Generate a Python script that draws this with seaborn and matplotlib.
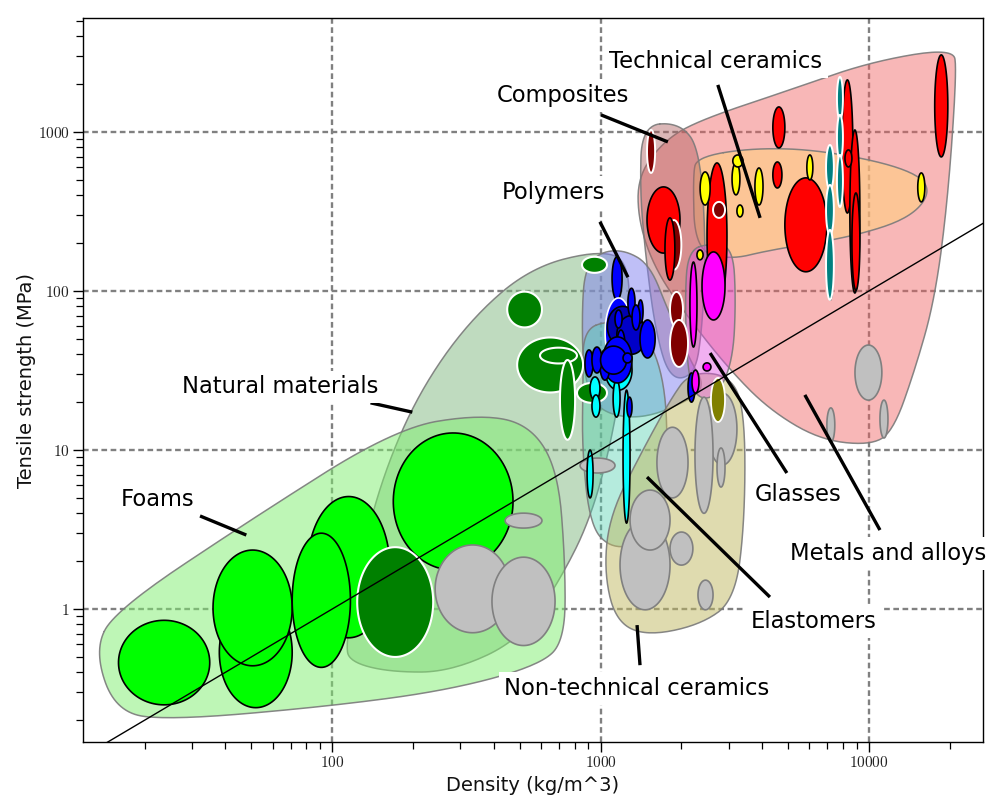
import numpy as np
import matplotlib
matplotlib.use("Agg")
import matplotlib.pyplot as plt
import seaborn as sns
from matplotlib.ticker import FuncFormatter, NullFormatter, LogLocator, FixedLocator

# ---------------- data (density kg/m^3, tensile strength MPa) ----------------
# family envelopes (boundary vertices)
metals_env_density = [1380, 1738, 2350, 5080, 10090, 20560, 21250, 19670, 17580, 14830, 12280, 10090, 6560, 4276, 3034, 2153, 1597, 1380]
metals_env_strength = [536, 891, 1189, 1837, 2754, 3375, 2455, 373, 87.8, 31.8, 13.0, 10.7, 11.6, 17.8, 31.8, 65.7, 136, 279]
techcer_env_density = [2287, 3700, 6560, 13370, 17300, 14590, 8710, 4276, 3034, 2248, 2208]
techcer_env_strength = [696, 793, 770, 602, 451, 292, 219, 181, 157, 181, 536]
comp_env_density = [1426, 1977, 2350, 2473, 2388, 2248, 1815, 1597, 1464, 1403]
comp_env_strength = [1107, 1140, 770, 181, 56.8, 29.6, 27.5, 56.8, 181, 432]
natural_env_density = [112, 127, 157, 213, 326, 546, 995, 1288, 1265, 1104, 914, 706, 501, 275, 164, 117]
natural_env_strength = [0.594, 2.03, 7.48, 23.8, 65.7, 140, 181, 152, 49.2, 11.6, 3.63, 1.52, 0.638, 0.402, 0.402, 0.464]
foam_env_density = [13.0, 15.6, 49.5, 172, 356, 546, 694, 738, 738, 595, 275, 98.4, 24.9, 15.6]
foam_env_strength = [0.552, 0.986, 3.63, 13.7, 16.8, 14.4, 7.48, 2.03, 0.638, 0.444, 0.31, 0.245, 0.2, 0.225]
poly_env_density = [875, 995, 1233, 1528, 1782, 2153, 2449, 2153, 1403, 953, 861, 853]
poly_env_strength = [136, 176, 181, 146, 75.9, 36.8, 25.6, 20.6, 15.4, 17.8, 31.8, 75.9]
elast_env_density = [861, 1084, 1464, 1738, 1782, 1738, 1403, 1084, 914, 853, 861]
elast_env_strength = [56.8, 65.7, 56.8, 27.5, 8.65, 4.2, 2.53, 2.42, 3.38, 10, 27.5]
ntc_env_density = [2153, 3034, 3450, 3450, 3170, 2350, 1464, 1132, 1030, 1084, 1403, 1815]
ntc_env_strength = [30.9, 29.6, 17.8, 3.63, 1.14, 0.793, 0.676, 0.853, 1.76, 3.9, 9.3, 20.6]
glass_env_density = [2118, 2600, 3114, 3193, 3114, 2735, 2350, 2118, 2061]
glass_env_strength = [181, 200, 186, 87.8, 36.8, 22.2, 20.6, 27.5, 87.8]

# individual materials: (min, max) ranges
foam_density = [(16, 35), (38, 71), (36, 71), (81, 164), (71, 117), (169, 472)]
foam_strength = [(0.25, 0.85), (0.24, 1.19), (0.44, 2.35), (0.66, 5.1), (0.43, 3.0), (1.76, 12.8)]

natural_density = [(124, 238), (449, 605), (489, 861), (595, 817), (706, 804), (853, 1057), (817, 1057)]
natural_strength = [(0.5, 2.45), (59, 99), (23, 51), (35, 44), (11.6, 36.8), (130, 164), (19.8, 26.4)]

gray_density = [(242, 460), (394, 677), (441, 605), (1622, 2118), (1182, 1815), (1288, 1815), (1815, 2208),
                (2307, 2625), (2512, 3222), (2248, 2625), (2716, 2909), (839, 1132), (8870, 11170),
                (10990, 11770), (6970, 7460)]
gray_strength = [(0.71, 2.53), (0.59, 2.12), (3.23, 4.01), (5.0, 13.9), (0.99, 3.63), (2.35, 5.6), (1.89, 3.05),
                 (0.99, 1.52), (8.05, 22.8), (4.0, 21.5), (5.85, 10.3), (7.17, 8.9), (20.6, 45.7),
                 (11.9, 20.6), (11.2, 18.4)]

olive_density = [(2578, 2909)]
olive_strength = [(15.0, 28.4)]

elast_density = [(1040, 1310), (914, 995), (929, 995), (1114, 1182), (1213, 1288), (891, 938)]
elast_strength = [(23.8, 42.6), (20.6, 28.8), (16.1, 22.2), (16.1, 27.5), (3.47, 23.8), (5.0, 10.0)]

poly_density = [(1104, 1203), (1040, 1310), (1060, 1380), (1150, 1480), (1265, 1344), (1380, 1440),
                (1310, 1403), (1132, 1203), (1151, 1233), (1403, 1597), (1021, 1310), (995, 1084),
                (875, 938), (929, 1012), (1000, 1250), (1213, 1310), (1254, 1310), (2118, 2248)]
poly_strength = [(87.8, 164), (33.3, 90.3), (45, 80), (40, 70), (68.6, 104), (62.9, 87.8),
                 (56.8, 81.6), (58.5, 75.9), (36.8, 56.8), (37.9, 65.7), (26.4, 51.4), (27.5, 42.6),
                 (28.8, 42.6), (30.5, 44.4), (30, 45), (35.3, 40.7), (16.1, 21.5), (20.0, 30.5)]

glass_density = [(2388, 2909), (2153, 2287), (2410, 2578), (2191, 2327)]
glass_strength = [(65.7, 176), (44.4, 152), (31.4, 35.3), (22.8, 31.8)]

metal_density = [(1490, 1977), (1738, 1892), (2493, 2958), (4385, 4861), (4385, 4740), (4861, 6970),
                 (7030, 7340), (7930, 8710), (8490, 9250), (8640, 9250), (8140, 8640), (17580, 19670)]
metal_strength = [(173, 451), (117, 288), (75.9, 638), (793, 1435), (444, 647), (132, 514),
                  (87.8, 209), (309, 2122), (97.1, 1028), (101, 413), (602, 770), (696, 3048)]

comp_density = [(1490, 1597), (1815, 2028), (1815, 2118), (1760, 2000), (2625, 2909)]
comp_strength = [(552, 1028), (59.3, 98.6), (33.3, 65.7), (136, 279), (288, 363)]

teal_density = [(7600, 8000), (7600, 8000), (7600, 8000), (6920, 7400), (6920, 7400), (6920, 7400)]
teal_strength = [(1189, 2218), (666, 1279), (337, 716), (432, 828), (225, 464), (87.8, 242)]

yellow_density = [(2350, 2560), (3090, 3305), (3110, 3394), (3760, 4030), (3222, 3394), (5870, 6180),
                  (15200, 16150), (2287, 2410)]
yellow_strength = [(347, 560), (402, 638), (602, 716), (347, 593), (292, 347), (499, 716),
                   (363, 552), (157, 181)]

# strength / density guide line
guide_density = [10, 30000]
guide_strength = [0.1, 300]

family_labels = ["Technical ceramics", "Composites", "Polymers", "Natural materials", "Foams",
                 "Glasses", "Metals and alloys", "Elastomers", "Non-technical ceramics"]

# ---------------- style ----------------
sns.set_theme(style="white")
plt.rcParams["font.family"] = ["DejaVu Sans"]
plt.rcParams["mathtext.fontset"] = "cm"

fig = plt.figure(figsize=(9.98, 8.0), dpi=100)
ax = fig.add_axes([83 / 998, 58 / 800, 900 / 998, 724 / 800])
ax.set_xscale("log")
ax.set_yscale("log")
ax.set_xlim(11.8, 26600)
ax.set_ylim(0.146, 5200)


def chaikin(pts, n=4):
    p = np.asarray(pts, dtype=float)
    for _ in range(n):
        q = np.roll(p, -1, axis=0)
        new = np.empty((2 * len(p), 2))
        new[0::2] = 0.75 * p + 0.25 * q
        new[1::2] = 0.25 * p + 0.75 * q
        p = new
    return p


def envelope(dens, stren, face, alpha, z):
    pts = np.column_stack([np.log10(dens), np.log10(stren)])
    sm = chaikin(pts, 4)
    ax.fill(10 ** sm[:, 0], 10 ** sm[:, 1], facecolor=face, alpha=alpha, edgecolor="none", zorder=z)
    xs = np.append(sm[:, 0], sm[0, 0])
    ys = np.append(sm[:, 1], sm[0, 1])
    ax.plot(10 ** xs, 10 ** ys, color="#7a7a7a", lw=1.1, alpha=0.9, zorder=z)


t = np.linspace(0, 2 * np.pi, 120)


def ellipses(dens, stren, face, edges, lw, z):
    for i, ((d0, d1), (s0, s1)) in enumerate(zip(dens, stren)):
        cx = (np.log10(d0) + np.log10(d1)) / 2
        ax_ = (np.log10(d1) - np.log10(d0)) / 2
        cy = (np.log10(s0) + np.log10(s1)) / 2
        ay = (np.log10(s1) - np.log10(s0)) / 2
        ec = edges[i] if isinstance(edges, list) else edges
        fc = face[i] if isinstance(face, list) else face
        ax.fill(10 ** (cx + ax_ * np.cos(t)), 10 ** (cy + ay * np.sin(t)),
                facecolor=fc, edgecolor=ec, lw=lw, zorder=z)


# envelopes (back to front)
envelope(metals_env_density, metals_env_strength, "#f06060", 0.45, 2)
envelope(techcer_env_density, techcer_env_strength, "#ffd080", 0.6, 2.1)
envelope(comp_env_density, comp_env_strength, "#b06060", 0.45, 2.2)
envelope(natural_env_density, natural_env_strength, "#80b880", 0.5, 2.3)
envelope(foam_env_density, foam_env_strength, "#7fef6f", 0.5, 2.4)
envelope(poly_env_density, poly_env_strength, "#8080f0", 0.5, 2.5)
envelope(elast_env_density, elast_env_strength, "#50d0b0", 0.42, 2.6)
envelope(ntc_env_density, ntc_env_strength, "#c0b860", 0.5, 2.7)
envelope(glass_env_density, glass_env_strength, "#e050e0", 0.45, 2.8)

# materials
ellipses(foam_density, foam_strength, "#00ff00", "black", 1.2, 3)
ellipses(natural_density, natural_strength, "#008000", "white", 1.5, 3.1)
ellipses(gray_density, gray_strength, "#c0c0c0", "#808080", 1.2, 3.2)
ellipses(olive_density, olive_strength, "#808000", "white", 1.3, 3.3)
ellipses(elast_density, elast_strength, "#00ffff", "black", 1.2, 3.4)
poly_edges = ["black"] * len(poly_density)
poly_edges[1] = "white"
poly_faces = ["#0000ff"] * len(poly_density)
poly_faces[2] = "#0000b0"
poly_faces[3] = "#0000c8"
ellipses(poly_density, poly_strength, poly_faces, poly_edges, 1.2, 3.5)
ellipses(metal_density[:1], metal_strength[:1], "#ff0000", "black", 1.2, 3.6)
ellipses(comp_density[:4], comp_strength[:4], "#800000", "white", 1.4, 3.7)
ellipses(metal_density[1:], metal_strength[1:], "#ff0000", "black", 1.2, 3.8)
ellipses(comp_density[4:], comp_strength[4:], "#800000", "white", 1.4, 3.9)
ellipses(glass_density, glass_strength, "#ff00ff", "black", 1.2, 4.0)
ellipses(teal_density, teal_strength, "#008080", "white", 1.4, 4.1)
ellipses(yellow_density, yellow_strength, "#ffff00", "black", 1.2, 4.2)

# guide line
sns.lineplot(x=guide_density, y=guide_strength, color="black", lw=1.0, ax=ax, zorder=5)

# labels with pointers
label_pos = [(2692, 2754, "center"), (724, 1684, "center"), (665, 413, "center"), (64, 24.9, "center"),
             (22.3, 4.92, "center"), (5430, 5.29, "center"), (5080, 2.25, "left"), (6240, 0.841, "center"),
             (1368, 0.318, "center")]
pointers = [((2735, 1974), (3930, 288)), ((1004, 1279), (1782, 865)), ((995, 272), (1265, 122)),
            ((139, 19.8), (199, 17.3)), ((32.2, 3.85), (47.9, 2.92)), ((4945, 7.17), (2560, 40.7)),
            ((10990, 3.14), (5770, 22.2)), ((4276, 1.19), (1490, 6.76)), ((1368, 0.793), (1403, 0.444))]
for (x0, y0), (x1, y1) in pointers:
    ax.plot([x0, x1], [y0, y1], color="black", lw=2.4, zorder=8, solid_capstyle="butt")
for txt, (lx, ly, ha) in zip(family_labels, label_pos):
    ax.text(lx, ly, txt, ha=ha, va="center", fontsize=16.3, color="black", zorder=10, clip_on=False,
            bbox=dict(boxstyle="square,pad=0.22", facecolor="white", edgecolor="none"))

# axes styling
ax.grid(True, which="major", color="#808080", lw=1.7, ls=(0, (2.4, 1.5)))
ax.grid(False, which="minor")
ax.set_axisbelow(True)
for s in ax.spines.values():
    s.set_color("black")
    s.set_linewidth(1.0)
    s.set_visible(True)
ax.xaxis.set_major_locator(FixedLocator([100, 1000, 10000]))
ax.yaxis.set_major_locator(FixedLocator([1, 10, 100, 1000]))
ax.xaxis.set_minor_locator(LogLocator(base=10, subs=np.arange(2, 10), numticks=20))
ax.yaxis.set_minor_locator(LogLocator(base=10, subs=np.arange(2, 10), numticks=20))
fmt = FuncFormatter(lambda v, p: r"$%d$" % int(round(v)))
ax.xaxis.set_major_formatter(fmt)
ax.yaxis.set_major_formatter(fmt)
ax.xaxis.set_minor_formatter(NullFormatter())
ax.yaxis.set_minor_formatter(NullFormatter())
ax.tick_params(which="major", direction="out", length=7.5, width=1.0, color="black",
               bottom=True, left=True, top=False, right=False, labelsize=11, pad=2, labelcolor="#222222")
ax.tick_params(which="minor", direction="out", length=5, width=0.9, color="black",
               bottom=True, left=True, top=False, right=False)
ax.set_xlabel("Density (kg/m^3)", fontsize=14, labelpad=4, color="#111111")
ax.set_ylabel("Tensile strength (MPa)", fontsize=14, labelpad=1, color="#111111")

fig.savefig("out.png", dpi=100, facecolor="white")
